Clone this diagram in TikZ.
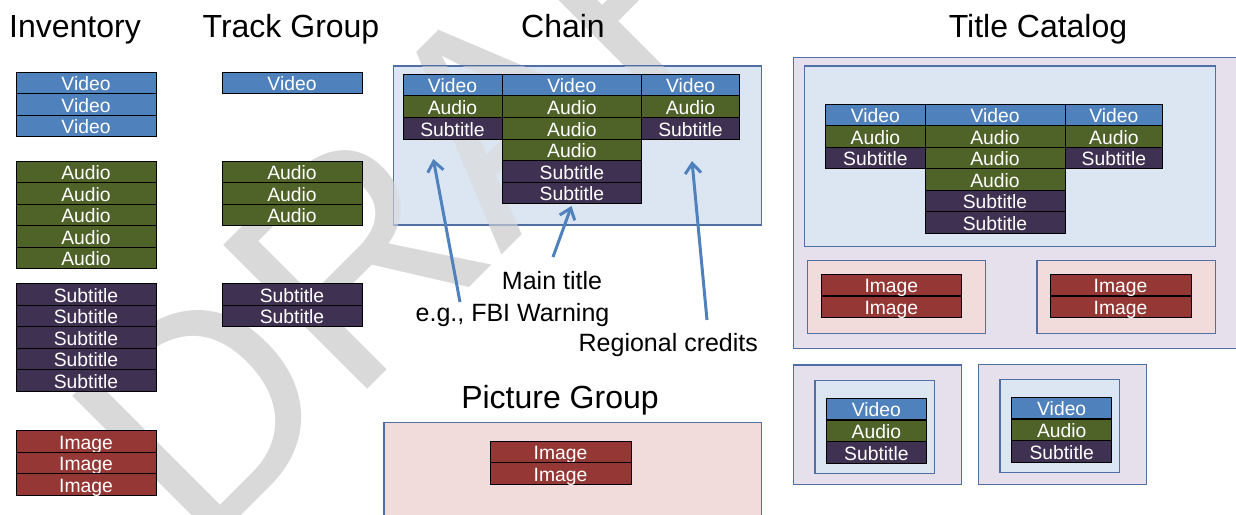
\documentclass[tikz,border=0pt]{standalone}
\usepackage{fontspec}
\setmainfont{Liberation Sans}
\usetikzlibrary{arrows.meta}
\definecolor{vid}{HTML}{4F81BD}
\definecolor{aud}{HTML}{4F6228}
\definecolor{sub}{HTML}{3F3151}
\definecolor{img}{HTML}{953735}
\definecolor{lblue}{HTML}{DCE6F2}
\definecolor{lav}{HTML}{E5E0EC}
\definecolor{lpink}{HTML}{F2DCDB}
\definecolor{framec}{RGB}{80,112,165}
\definecolor{arrowc}{HTML}{4F81BD}
\definecolor{wm}{HTML}{D9D9D9}
\tikzset{
 cell/.style={draw=black, line width=1pt, text=white, font=\fontsize{19.3}{19.3}\selectfont,
   inner sep=0pt, outer sep=0pt, anchor=north west, minimum height=21.5pt,
   text height=15.5pt, text depth=0pt},
 vcell/.style={cell, fill=vid},
 acell/.style={cell, fill=aud},
 scell/.style={cell, fill=sub},
 icell/.style={cell, fill=img},
 heading/.style={font=\fontsize{32}{32}\selectfont, anchor=base, inner sep=0pt},
 note/.style={font=\fontsize{25}{25}\selectfont, anchor=base, inner sep=0pt},
 container/.style={draw=framec, line width=1.3pt, anchor=north west, inner sep=0pt, outer sep=0pt},
 pointer/.style={draw=arrowc, line width=3pt, -{Straight Barb[length=10pt,width=16pt]}},
 watermark/.style={rotate=45, anchor=base west, inner sep=0pt, text=wm, font=\fontsize{296}{296}\selectfont},
}
\begin{document}
\begin{tikzpicture}[x=1pt,y=-1pt]
\fill[white] (0,0) rectangle (1236,514);
\useasboundingbox (0,0) rectangle (1236,514);

% watermark
\node[watermark] (wmark) at (199,558) {DRAFT};

% headings
\node[heading] (hInv) at (75,37) {Inventory};
\node[heading] (hTrack) at (291,37) {Track Group};
\node[heading] (hChain) at (563,37) {Chain};
\node[heading] (hTitle) at (1038,37) {Title Catalog};
\node[heading] (hPic) at (560,408) {Picture Group};

% Inventory
\node[vcell, minimum width=140pt] (iv1) at (16,72) {Video};
\node[vcell, minimum width=140pt] (iv2) at (16,93.5) {Video};
\node[vcell, minimum width=140pt] (iv3) at (16,115) {Video};
\node[acell, minimum width=140pt] (ia1) at (16,161) {Audio};
\node[acell, minimum width=140pt] (ia2) at (16,182.5) {Audio};
\node[acell, minimum width=140pt] (ia3) at (16,204) {Audio};
\node[acell, minimum width=140pt] (ia4) at (16,225.5) {Audio};
\node[acell, minimum width=140pt] (ia5) at (16,247) {Audio};
\node[scell, minimum width=140pt] (is1) at (16,283.5) {Subtitle};
\node[scell, minimum width=140pt] (is2) at (16,305) {Subtitle};
\node[scell, minimum width=140pt] (is3) at (16,326.5) {Subtitle};
\node[scell, minimum width=140pt] (is4) at (16,348) {Subtitle};
\node[scell, minimum width=140pt] (is5) at (16,369.5) {Subtitle};
\node[icell, minimum width=140pt] (ii1) at (16,430.5) {Image};
\node[icell, minimum width=140pt] (ii2) at (16,452) {Image};
\node[icell, minimum width=140pt] (ii3) at (16,473.5) {Image};

% Track group
\node[vcell, minimum width=140pt] (tv1) at (222,72) {Video};
\node[acell, minimum width=140pt] (ta1) at (222,161) {Audio};
\node[acell, minimum width=140pt] (ta2) at (222,182.5) {Audio};
\node[acell, minimum width=140pt] (ta3) at (222,204) {Audio};
\node[scell, minimum width=140pt] (ts1) at (222,283.5) {Subtitle};
\node[scell, minimum width=140pt] (ts2) at (222,305) {Subtitle};

% Chain
\node[container, fill=lblue, minimum width=368.4pt, minimum height=159pt] (chainbox) at (393.3,66) {};
\begin{scope}
\clip (393.3,66) rectangle (761.7,225);
\node[watermark, text opacity=0.6] (wmark2) at (199,558) {DRAFT};
\end{scope}
\begin{scope}[every node/.append style={minimum height=21.6pt}]
\node[vcell, minimum width=99pt] (cl1) at (403,74.3) {Video};
\node[acell, minimum width=99pt] (cl2) at (403,95.9) {Audio};
\node[scell, minimum width=99pt] (cl3) at (403,117.5) {Subtitle};
\node[vcell, minimum width=139.7pt] (cm1) at (502,74.3) {Video};
\node[acell, minimum width=139.7pt] (cm2) at (502,95.9) {Audio};
\node[acell, minimum width=139.7pt] (cm3) at (502,117.5) {Audio};
\node[acell, minimum width=139.7pt] (cm4) at (502,139.1) {Audio};
\node[scell, minimum width=139.7pt] (cm5) at (502,160.7) {Subtitle};
\node[scell, minimum width=139.7pt] (cm6) at (502,182.3) {Subtitle};
\node[vcell, minimum width=97.6pt] (cr1) at (641.7,74.3) {Video};
\node[acell, minimum width=97.6pt] (cr2) at (641.7,95.9) {Audio};
\node[scell, minimum width=97.6pt] (cr3) at (641.7,117.5) {Subtitle};
\end{scope}

% labels and pointers
\node[note] (lMain) at (552,289.3) {Main title};
\node[note] (lFbi) at (512.5,321.7) {e.g., FBI Warning};
\node[note] (lReg) at (668.3,351.7) {Regional credits};
\coordinate (fbiTail) at (460,302);
\coordinate (fbiTip) at (433.3,159);
\coordinate (mainTail) at (553,257);
\coordinate (mainTip) at (571.5,206);
\coordinate (regTail) at (707,320);
\coordinate (regTip) at (692,161);
\draw[pointer] (fbiTail) -- (fbiTip);
\draw[pointer] (mainTail) -- (mainTip);
\draw[pointer] (regTail) -- (regTip);

% Picture group
\node[container, fill=lpink, minimum width=377.7pt, minimum height=110pt] (picbox) at (384,422.3) {};
\node[icell, minimum width=141pt] (pi1) at (490,441.3) {Image};
\node[icell, minimum width=141pt] (pi2) at (490,462.8) {Image};

% Title catalog
\node[container, fill=lav, minimum width=460pt, minimum height=291pt] (tcbox) at (793.3,57.3) {};
\node[container, fill=lblue, minimum width=411pt, minimum height=180.7pt] (tcchain) at (804.3,66) {};
\begin{scope}[every node/.append style={minimum height=21.55pt}]
\node[vcell, minimum width=99.3pt] (tl1) at (825.7,104) {Video};
\node[acell, minimum width=99.3pt] (tl2) at (825.7,125.55) {Audio};
\node[scell, minimum width=99.3pt] (tl3) at (825.7,147.1) {Subtitle};
\node[vcell, minimum width=140pt] (tm1) at (925,104) {Video};
\node[acell, minimum width=140pt] (tm2) at (925,125.55) {Audio};
\node[acell, minimum width=140pt] (tm3) at (925,147.1) {Audio};
\node[acell, minimum width=140pt] (tm4) at (925,168.65) {Audio};
\node[scell, minimum width=140pt] (tm5) at (925,190.2) {Subtitle};
\node[scell, minimum width=140pt] (tm6) at (925,211.75) {Subtitle};
\node[vcell, minimum width=97.7pt] (tr1) at (1065,104) {Video};
\node[acell, minimum width=97.7pt] (tr2) at (1065,125.55) {Audio};
\node[scell, minimum width=97.7pt] (tr3) at (1065,147.1) {Subtitle};
\end{scope}
\node[container, fill=lpink, minimum width=178pt, minimum height=72.6pt] (tcpicL) at (807.7,260.7) {};
\node[icell, minimum width=140.7pt] (tli1) at (821,274.3) {Image};
\node[icell, minimum width=140.7pt] (tli2) at (821,296) {Image};
\node[container, fill=lpink, minimum width=178.3pt, minimum height=72.6pt] (tcpicR) at (1037,260.7) {};
\node[icell, minimum width=141pt] (tri1) at (1050,274.3) {Image};
\node[icell, minimum width=141pt] (tri2) at (1050,296) {Image};

% small titles
\node[container, fill=lav, minimum width=168.4pt, minimum height=119.7pt] (sA) at (793.3,365) {};
\node[container, fill=lblue, minimum width=119.3pt, minimum height=93pt] (sAc) at (815,380.3) {};
\begin{scope}[every node/.append style={minimum height=21.7pt}]
\node[vcell, minimum width=99.3pt] (sa1) at (826.7,398.3) {Video};
\node[acell, minimum width=99.3pt] (sa2) at (826.7,420) {Audio};
\node[scell, minimum width=99.3pt] (sa3) at (826.7,441.7) {Subtitle};
\end{scope}
\node[container, fill=lav, minimum width=168.4pt, minimum height=120pt] (sB) at (978.3,364.3) {};
\node[container, fill=lblue, minimum width=119.3pt, minimum height=93pt] (sBc) at (1000,379.7) {};
\begin{scope}[every node/.append style={minimum height=21.7pt}]
\node[vcell, minimum width=100pt] (sb1) at (1011.7,397.3) {Video};
\node[acell, minimum width=100pt] (sb2) at (1011.7,419) {Audio};
\node[scell, minimum width=100pt] (sb3) at (1011.7,440.7) {Subtitle};
\end{scope}
\end{tikzpicture}
\end{document}
